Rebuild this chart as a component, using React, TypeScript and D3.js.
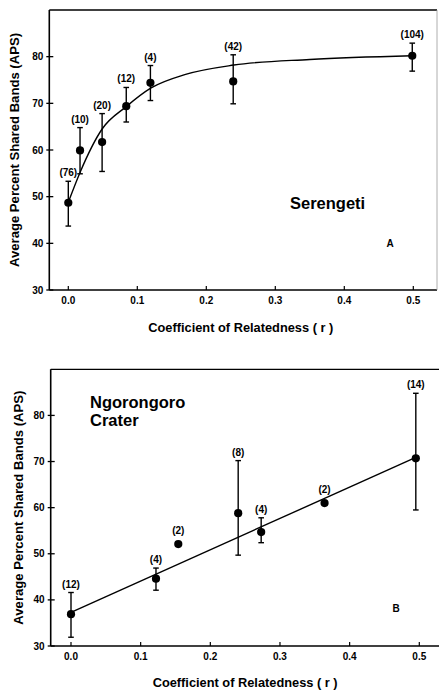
import React from "react";
import * as d3 from "d3";

// ---------- data ----------
const xTicks = [0, 0.1, 0.2, 0.3, 0.4, 0.5];
const xTickLabels = ["0.0", "0.1", "0.2", "0.3", "0.4", "0.5"];
const yTicks = [30, 40, 50, 60, 70, 80];
const yTickLabels = ["30", "40", "50", "60", "70", "80"];

const serR = [0, 0.017, 0.049, 0.084, 0.119, 0.239, 0.4985];
const serAPS = [48.7, 59.9, 61.7, 69.4, 74.4, 74.7, 80.2];
const serUpper = [53.3, 64.8, 67.8, 73.4, 78.1, 80.4, 82.9];
const serLower = [43.7, 54.9, 55.4, 66.0, 70.6, 69.9, 76.9];
const serN = ["(76)", "(10)", "(20)", "(12)", "(4)", "(42)", "(104)"];
const serCurveR = [0, 0.017, 0.049, 0.084, 0.12, 0.17, 0.24, 0.35, 0.4985];
const serCurveAPS = [48.8, 55.2, 64.5, 69.3, 73.3, 76.2, 78.2, 79.4, 80.2];

const ngoR = [0, 0.122, 0.154, 0.24, 0.273, 0.364, 0.495];
const ngoAPS = [36.9, 44.6, 52.1, 58.8, 54.7, 61.0, 70.7];
const ngoUpper: (number | null)[] = [41.6, 46.9, null, 70.2, 57.8, null, 84.8];
const ngoLower: (number | null)[] = [31.9, 42.1, null, 49.7, 52.4, null, 59.5];
const ngoN = ["(12)", "(4)", "(2)", "(8)", "(4)", "(2)", "(14)"];
const ngoLineR = [0, 0.495];
const ngoLineAPS = [37.3, 70.9];

const FONT = "'Liberation Sans', Arial, Helvetica, sans-serif";

type PanelProps = {
  left: number;
  right: number;
  top: number;
  bottom: number;
  x0: number;
  x5: number;
  r: number[];
  aps: number[];
  upper: (number | null)[];
  lower: (number | null)[];
  n: string[];
  fitR: number[];
  fitAPS: number[];
  curved: boolean;
  rightBorder: boolean;
  ytitleX: number;
  xtitleY: number;
  children?: React.ReactNode;
};

function Panel(p: PanelProps) {
  const x = d3.scaleLinear().domain([0, 0.5]).range([p.x0, p.x5]);
  const y = d3.scaleLinear().domain([30, 90]).range([p.bottom, p.top]);
  const fitPts: [number, number][] = p.fitR.map((rv, i) => [x(rv), y(p.fitAPS[i])]);
  const line = d3
    .line<[number, number]>()
    .x((d) => d[0])
    .y((d) => d[1])
    .curve(p.curved ? d3.curveMonotoneX : d3.curveLinear);
  const midY = (p.top + p.bottom) / 2;
  return (
    <g>
      {/* frame */}
      <line x1={p.left} x2={p.left} y1={p.top} y2={p.bottom} stroke="#000" strokeWidth={1.6} />
      <line x1={p.left} x2={p.right} y1={p.top} y2={p.top} stroke="#000" strokeWidth={1.3} />
      <line x1={p.left} x2={p.right} y1={p.bottom} y2={p.bottom} stroke="#000" strokeWidth={1.6} />
      {p.rightBorder && (
        <line x1={p.right} x2={p.right} y1={p.top} y2={p.bottom} stroke="#999" strokeWidth={0.8} />
      )}
      {/* y ticks */}
      {yTicks.map((t, i) => (
        <g key={"yt" + i}>
          <line x1={p.left - 3} x2={p.left + 4} y1={y(t)} y2={y(t)} stroke="#000" strokeWidth={1.3} />
          <text
            x={p.left - 6}
            y={y(t)}
            dy="0.35em"
            textAnchor="end"
            fontFamily={FONT}
            fontWeight="bold"
            fontSize={10}
          >
            {yTickLabels[i]}
          </text>
        </g>
      ))}
      {/* x ticks */}
      {xTicks.map((t, i) => (
        <g key={"xt" + i}>
          <line x1={x(t)} x2={x(t)} y1={p.bottom} y2={p.bottom - 4} stroke="#000" strokeWidth={1.2} />
          <text
            x={x(t)}
            y={p.bottom + 14}
            textAnchor="middle"
            fontFamily={FONT}
            fontWeight="bold"
            fontSize={10}
          >
            {xTickLabels[i]}
          </text>
        </g>
      ))}
      {/* axis titles */}
      <text
        transform={`translate(${p.ytitleX},${midY}) rotate(-90)`}
        textAnchor="middle"
        fontFamily={FONT}
        fontWeight="bold"
        fontSize={12}
        textLength={234}
        lengthAdjust="spacingAndGlyphs"
      >
        Average Percent Shared Bands (APS)
      </text>
      <text
        x={x(0.25)}
        y={p.xtitleY}
        textAnchor="middle"
        fontFamily={FONT}
        fontWeight="bold"
        fontSize={12.5}
        textLength={185}
        lengthAdjust="spacingAndGlyphs"
      >
        Coefficient of Relatedness ( r )
      </text>
      {/* fit */}
      <path d={line(fitPts) || ""} fill="none" stroke="#000" strokeWidth={1.4} />
      {/* error bars */}
      {p.r.map((rv, i) => {
        const u = p.upper[i];
        const l = p.lower[i];
        if (u == null || l == null) return null;
        const cx = x(rv);
        return (
          <g key={"eb" + i} stroke="#000" strokeWidth={1.4}>
            <line x1={cx} x2={cx} y1={y(u)} y2={y(l)} />
            <line x1={cx - 2.8} x2={cx + 2.8} y1={y(u)} y2={y(u)} />
            <line x1={cx - 2.8} x2={cx + 2.8} y1={y(l)} y2={y(l)} />
          </g>
        );
      })}
      {/* points */}
      {p.r.map((rv, i) => (
        <circle key={"pt" + i} cx={x(rv)} cy={y(p.aps[i])} r={4.1} fill="#000" />
      ))}
      {/* sample size labels */}
      {p.r.map((rv, i) => {
        const u = p.upper[i];
        const topVal = u == null ? p.aps[i] : u;
        const off = u == null ? 10 : 5;
        return (
          <text
            key={"n" + i}
            x={x(rv)}
            y={y(topVal) - off}
            textAnchor="middle"
            fontFamily={FONT}
            fontWeight="bold"
            fontSize={10}
          >
            {p.n[i]}
          </text>
        );
      })}
      {p.children}
    </g>
  );
}

export default function App() {
  return (
    <svg
      width={439}
      height={692}
      viewBox="0 0 439 692"
      style={{ position: "absolute", left: 0, top: 0, background: "#fff" }}
    >
      <rect x={0} y={0} width={439} height={692} fill="#fff" />
      <Panel
        left={49.3}
        right={437}
        top={10}
        bottom={290}
        x0={68.3}
        x5={413.3}
        r={serR}
        aps={serAPS}
        upper={serUpper}
        lower={serLower}
        n={serN}
        fitR={serCurveR}
        fitAPS={serCurveAPS}
        curved={true}
        rightBorder={true}
        ytitleX={19}
        xtitleY={332}
      >
        <text x={290} y={209} fontFamily={FONT} fontWeight="bold" fontSize={16.5}>
          Serengeti
        </text>
        <text x={386.5} y={246.5} fontFamily={FONT} fontWeight="bold" fontSize={10}>
          A
        </text>
      </Panel>
      <Panel
        left={50.7}
        right={439}
        top={369.3}
        bottom={646}
        x0={71}
        x5={419.3}
        r={ngoR}
        aps={ngoAPS}
        upper={ngoUpper}
        lower={ngoLower}
        n={ngoN}
        fitR={ngoLineR}
        fitAPS={ngoLineAPS}
        curved={false}
        rightBorder={false}
        ytitleX={23}
        xtitleY={687}
      >
        <text x={90} y={408} fontFamily={FONT} fontWeight="bold" fontSize={16.5}>
          Ngorongoro
        </text>
        <text x={90} y={425.5} fontFamily={FONT} fontWeight="bold" fontSize={16.5}>
          Crater
        </text>
        <text x={392.5} y={611.5} fontFamily={FONT} fontWeight="bold" fontSize={10}>
          B
        </text>
      </Panel>
    </svg>
  );
}
